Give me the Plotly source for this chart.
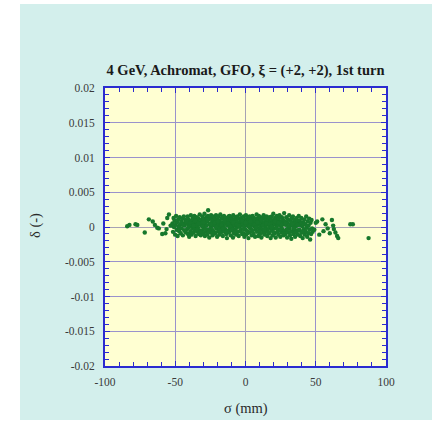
import plotly.graph_objects as go

# Longitudinal phase-space coordinates after the first turn: sigma (mm), delta (-)
sigma_core = [
    -52.0, -51.6, -51.2, -50.9, -50.5, -50.1, -49.8, -49.4, -49.0, -48.7, -48.3, -47.9, -47.6, -47.2, -46.8,
    -46.5, -46.1, -45.7, -45.4, -45.0, -44.6, -44.3, -43.9, -43.5, -43.2, -42.8, -42.4, -42.1, -51.8, -47.0,
    -41.8, -41.5, -41.2, -40.9, -40.6, -40.4, -40.1, -39.8, -39.5, -39.2, -38.9, -38.6, -38.4, -38.1, -37.8,
    -37.5, -37.2, -36.9, -36.6, -36.4, -36.1, -35.8, -35.5, -35.2, -34.9, -34.6, -34.4, -34.1, -33.8, -33.5,
    -33.2, -32.9, -32.6, -32.4, -32.1,
    -31.8, -31.5, -31.3, -31.0, -30.7, -30.5, -30.2, -29.9, -29.7, -29.4, -29.2, -28.9, -28.6, -28.4, -28.1,
    -27.8, -27.6, -27.3, -27.1, -26.8, -26.6, -26.3, -26.0, -25.8, -25.5, -25.2, -25.0, -24.7, -24.5, -24.2,
    -23.9, -23.7, -23.4, -23.1, -22.9, -22.6, -22.4, -22.1,
    -21.8, -21.6, -21.3, -21.0, -20.8, -20.5, -20.2, -20.0, -19.7, -19.5, -19.2, -18.9, -18.7, -18.4, -18.2,
    -17.9, -17.6, -17.4, -17.1, -16.8, -16.6, -16.3, -16.1, -15.8, -15.5, -15.3, -15.0, -14.8, -14.5, -14.2,
    -14.0, -13.7, -13.4, -13.2, -12.9, -12.7, -12.4, -12.1,
    -11.8, -11.6, -11.3, -11.0, -10.8, -10.5, -10.3, -10.0, -9.7, -9.5, -9.2, -8.9, -8.7, -8.4, -8.2,
    -7.9, -7.6, -7.4, -7.1, -6.9, -6.6, -6.3, -6.1, -5.8, -5.5, -5.3, -5.0, -4.8, -4.5, -4.2,
    -4.0, -3.7, -3.5, -3.2, -2.9, -2.7, -2.4, -2.1,
    -1.8, -1.6, -1.3, -1.0, -0.8, -0.5, -0.3, 0.0, 0.3, 0.5, 0.8, 1.1, 1.3, 1.6, 1.8,
    2.1, 2.4, 2.6, 2.9, 3.1, 3.4, 3.7, 3.9, 4.2, 4.5, 4.7, 5.0, 5.2, 5.5, 5.8,
    6.0, 6.3, 6.5, 6.8, 7.1, 7.3, 7.6, 7.9,
    8.2, 8.4, 8.7, 9.0, 9.2, 9.5, 9.7, 10.0, 10.3, 10.5, 10.8, 11.1, 11.3, 11.6, 11.8,
    12.1, 12.4, 12.6, 12.9, 13.1, 13.4, 13.7, 13.9, 14.2, 14.5, 14.7, 15.0, 15.2, 15.5, 15.8,
    16.0, 16.3, 16.5, 16.8, 17.1, 17.3, 17.6, 17.9,
    18.2, 18.5, 18.7, 19.0, 19.3, 19.6, 19.8, 20.1, 20.4, 20.7, 20.9, 21.2, 21.5, 21.8, 22.0,
    22.3, 22.6, 22.9, 23.1, 23.4, 23.7, 24.0, 24.2, 24.5, 24.8, 25.1, 25.3, 25.6, 25.9, 26.2,
    26.4, 26.7, 27.0, 27.3, 27.5, 27.8,
    28.1, 28.4, 28.7, 29.0, 29.3, 29.6, 29.9, 30.2, 30.5, 30.8, 31.1, 31.4, 31.7, 32.0, 32.3,
    32.6, 32.9, 33.2, 33.5, 33.8, 34.1, 34.4, 34.7, 35.0, 35.3, 35.6, 35.9, 36.2, 36.5, 36.8,
    37.1, 37.4, 37.7, 37.9,
    38.3, 38.6, 39.0, 39.3, 39.7, 40.0, 40.4, 40.7, 41.1, 41.4, 41.8, 42.1, 42.5, 42.8, 43.2,
    43.5, 43.9, 44.2, 44.6, 44.9, 45.3, 45.6, 46.0, 46.3, 46.7, 47.0, 47.4, 47.8,
]
delta_core = [
    0.0005, -0.0007, 0.0013, 0.0000, 0.0009, -0.0011, 0.0003, 0.0016, -0.0004, 0.0007, -0.0013, 0.0011, 0.0001, -0.0006, 0.0014,
    0.0004, -0.0009, 0.0008, -0.0002, 0.0012, -0.0012, 0.0005, 0.0015, -0.0005, 0.0002, 0.0010, -0.0008, 0.0006, 0.0002, -0.0001,
    0.0009, -0.0003, 0.0015, -0.0010, 0.0004, 0.0011, -0.0014, 0.0001, 0.0007, -0.0006, 0.0017, 0.0003, -0.0011, 0.0009, -0.0002,
    0.0013, 0.0005, -0.0008, 0.0000, 0.0016, -0.0004, 0.0010, -0.0013, 0.0006, 0.0002, 0.0014, -0.0007, 0.0008, -0.0001, 0.0012,
    -0.0010, 0.0004, 0.0018, -0.0005, 0.0007,
    -0.0012, 0.0010, 0.0003, -0.0005, 0.0015, 0.0007, -0.0009, 0.0001, 0.0012, -0.0002, 0.0019, -0.0013, 0.0005, 0.0009, -0.0007,
    0.0014, 0.0002, -0.0011, 0.0008, 0.0016, 0.0024, -0.0004, 0.0011, -0.0015, 0.0004, 0.0013, -0.0008, 0.0000, 0.0017, 0.0006,
    -0.0003, 0.0010, -0.0012, 0.0015, 0.0003, -0.0006, 0.0009, 0.0002,
    0.0013, -0.0009, 0.0005, 0.0017, -0.0002, 0.0008, -0.0014, 0.0011, 0.0002, -0.0006, 0.0015, 0.0004, -0.0011, 0.0009, -0.0001,
    0.0018, 0.0006, -0.0008, 0.0012, -0.0004, 0.0003, 0.0014, -0.0013, 0.0007, 0.0001, 0.0016, -0.0007, 0.0010, -0.0003, 0.0005,
    0.0013, -0.0010, 0.0008, -0.0016, 0.0002, 0.0011, -0.0005, 0.0015,
    -0.0008, 0.0006, 0.0016, -0.0002, 0.0010, -0.0012, 0.0003, 0.0013, -0.0005, 0.0008, 0.0000, -0.0015, 0.0017, 0.0005, -0.0009,
    0.0011, 0.0002, -0.0004, 0.0014, 0.0007, -0.0011, 0.0009, -0.0001, 0.0015, 0.0004, -0.0007, 0.0012, -0.0013, 0.0006, 0.0001,
    0.0018, -0.0006, 0.0010, -0.0003, 0.0013, 0.0003, -0.0010, 0.0008,
    0.0004, -0.0009, 0.0015, 0.0001, -0.0014, 0.0010, 0.0006, -0.0004, 0.0017, -0.0011, 0.0008, 0.0002, 0.0013, -0.0006, 0.0005,
    -0.0016, 0.0011, 0.0000, 0.0015, -0.0008, 0.0007, -0.0002, 0.0012, 0.0003, -0.0012, 0.0009, 0.0016, -0.0005, 0.0004, -0.0010,
    0.0013, 0.0001, 0.0008, -0.0014, 0.0011, -0.0003, 0.0006, 0.0018,
    -0.0007, 0.0012, 0.0003, -0.0013, 0.0008, 0.0016, -0.0002, 0.0005, -0.0010, 0.0014, 0.0001, 0.0009, -0.0015, 0.0006, -0.0004,
    0.0012, 0.0002, -0.0008, 0.0017, 0.0007, -0.0011, 0.0004, 0.0013, -0.0001, 0.0010, -0.0006, 0.0015, 0.0003, -0.0013, 0.0008,
    -0.0003, 0.0011, 0.0005, -0.0009, 0.0014, 0.0000, 0.0007, -0.0016,
    0.0010, -0.0005, 0.0015, 0.0002, -0.0012, 0.0007, 0.0019, -0.0002, 0.0011, -0.0009, 0.0004, 0.0013, -0.0015, 0.0006, 0.0000,
    0.0016, -0.0007, 0.0009, 0.0003, -0.0011, 0.0012, -0.0004, 0.0017, 0.0005, -0.0014, 0.0008, 0.0001, -0.0008, 0.0014, 0.0004,
    -0.0003, 0.0010, -0.0012, 0.0006, 0.0020, -0.0006,
    0.0008, -0.0010, 0.0003, 0.0014, -0.0004, -0.0015, 0.0006, 0.0011, -0.0008, 0.0000, 0.0017, -0.0002, -0.0012, 0.0009, 0.0004,
    -0.0017, 0.0012, -0.0006, 0.0002, 0.0015, -0.0010, 0.0007, -0.0003, 0.0010, -0.0014, 0.0005, 0.0001, -0.0008, 0.0013, -0.0005,
    0.0008, -0.0011, 0.0003, 0.0016,
    -0.0005, 0.0009, -0.0013, 0.0003, 0.0013, -0.0008, 0.0001, -0.0016, 0.0007, -0.0003, 0.0011, -0.0011, 0.0004, -0.0006, 0.0015,
    -0.0001, -0.0014, 0.0008, -0.0009, 0.0002, 0.0012, -0.0004, -0.0018, 0.0006, -0.0010, 0.0010, -0.0002, -0.0007,
]

# Additional particles filling the dense centre of the bunch
sigma_centre = [
    -44.5, -43.2, -41.9, -40.7, -39.4, -38.2, -37.0, -35.7, -34.5, -33.3,
    -32.0, -30.8, -29.6, -28.3, -27.1, -25.9, -24.6, -23.4, -22.2, -20.9,
    -19.7, -18.5, -17.2, -16.0, -14.8, -13.5, -12.3, -11.1, -9.8, -8.6,
    -7.4, -6.1, -4.9, -3.7, -2.4, -1.2, 0.0, 1.2, 2.5, 3.7,
    4.9, 6.2, 7.4, 8.6, 9.9, 11.1, 12.3, 13.6, 14.8, 16.0,
    17.3, 18.5, 19.7, 21.0, 22.2, 23.4, 24.7, 25.9, 27.1, 28.4,
    29.6, 30.8, 32.1, 33.3, 34.5, 35.8, 37.0, 38.2, 39.5, 40.7,
]
delta_centre = [
    0.0003, -0.0005, 0.0008, -0.0001, 0.0006, -0.0008, 0.0002, 0.0009, -0.0004, 0.0005,
    -0.0007, 0.0001, 0.0007, -0.0003, 0.0010, -0.0006, 0.0004, -0.0009, 0.0006, 0.0000,
    0.0008, -0.0005, 0.0003, -0.0002, 0.0009, -0.0007, 0.0005, 0.0001, -0.0004, 0.0007,
    -0.0008, 0.0004, 0.0002, -0.0006, 0.0009, -0.0003, 0.0006, -0.0009, 0.0001, 0.0008,
    -0.0005, 0.0003, -0.0001, 0.0007, -0.0006, 0.0010, 0.0002, -0.0004, 0.0005, -0.0008,
    0.0004, 0.0000, -0.0007, 0.0008, -0.0002, 0.0006, -0.0005, 0.0003, -0.0009, 0.0005,
    -0.0003, 0.0001, -0.0007, 0.0004, -0.0002, -0.0008, 0.0003, -0.0004, 0.0006, -0.0006,
]

# Particles trailing off either end of the bunch
sigma_tails = [
    -84.2, -82.6, -78.3, -77.0, -71.7, -68.8, -66.0, -64.5, -62.8, -61.7, -59.3, -58.5, -57.0, -56.2, -55.7,
    -54.5, -53.3,
    49.0, 50.0, 51.0, 52.5, 54.7, 55.5, 57.0, 58.5, 60.0, 61.5, 62.4, 62.9, 64.0, 65.2, 66.0, 74.6, 76.4, 87.6,
]
delta_tails = [
    0.0001, 0.0003, 0.0004, 0.0003, -0.0008, 0.0011, 0.0008, 0.0003, -0.0001, -0.0002, -0.0010, 0.0005, -0.0009, -0.0003, 0.0013,
    0.0018, 0.0002,
    -0.0004, 0.0006, 0.0008, -0.0011, 0.0011, -0.0006, 0.0004, -0.0002, -0.0009, 0.0010, 0.0002, -0.0003, -0.0008, -0.0013, -0.0016,
    0.0004, 0.0004, -0.0016,
]

x_ticks = [-100, -50, 0, 50, 100]
x_tick_text = ["-100", "-50", "0", "50", "100"]
y_ticks = [-0.02, -0.015, -0.01, -0.005, 0, 0.005, 0.01, 0.015, 0.02]
y_tick_text = ["-0.02", "-0.015", "-0.01", "-0.005", "0", "0.005", "0.01", "0.015", "0.02"]

CYAN = "#d3efec"
YELLOW = "#ffffd2"
BLUE = "#2b2bd0"
GRID = "#9a92cc"
ZERO = "#a6a2b4"
GREEN = "#17782c"
SERIF = "Liberation Serif, Times New Roman, serif"

fig = go.Figure()
fig.add_trace(go.Scatter(
    x=sigma_core + sigma_centre + sigma_tails,
    y=delta_core + delta_centre + delta_tails,
    mode="markers",
    marker=dict(size=4.4, color=GREEN, line=dict(width=0)),
    showlegend=False,
    hoverinfo="skip",
))

axis_common = dict(
    showline=True, linecolor=BLUE, linewidth=2, mirror="allticks",
    ticks="inside", ticklen=5, tickcolor=BLUE, tickwidth=1.2,
    showgrid=True, gridcolor=GRID, gridwidth=1,
    zeroline=True, zerolinecolor=ZERO, zerolinewidth=1.2,
    tickfont=dict(family=SERIF, size=11.5, color="#3a3a3a"),
    fixedrange=True,
)

fig.update_xaxes(
    range=[-100, 100], tickmode="array", tickvals=x_ticks, ticktext=x_tick_text,
    minor=dict(dtick=10, ticks="inside", ticklen=4, tickcolor=BLUE, tickwidth=1.2, showgrid=False),
    ticklabelstandoff=4,
    **axis_common,
)
fig.update_yaxes(
    range=[-0.02, 0.02], tickmode="array", tickvals=y_ticks, ticktext=y_tick_text,
    minor=dict(dtick=0.001, ticks="inside", ticklen=4, tickcolor=BLUE, tickwidth=1.2, showgrid=False),
    ticklabelstandoff=6,
    **axis_common,
)

# Plot-area geometry in pixels (used to place the panel backdrop)
W, H = 432, 422
L, R, T, B = 105, 46, 88, 56
pw, ph = W - L - R, H - T - B

def px_x(px):
    return (px - L) / pw

def px_y(py):
    return (H - B - py) / ph

fig.update_layout(
    width=W, height=H,
    margin=dict(l=L, r=R, t=T, b=B),
    paper_bgcolor="white",
    plot_bgcolor=YELLOW,
    title=dict(
        text="<b>4 GeV, Achromat, GFO, ξ = (+2, +2), 1st turn</b>",
        font=dict(family=SERIF, size=14.5, color="#1a1a1a"),
        x=0.5, xref="paper", xanchor="center",
        y=1 - 70 / H, yref="container", yanchor="middle",
    ),
    shapes=[
        dict(type="rect", xref="paper", yref="paper",
             x0=px_x(20), x1=px_x(W + 2), y0=px_y(420), y1=px_y(4),
             fillcolor=CYAN, line=dict(width=0), layer="below"),
        dict(type="rect", xref="x", yref="y", x0=-100, x1=100, y0=-0.02, y1=0.02,
             fillcolor=YELLOW, line=dict(width=0), layer="below"),
    ],
    annotations=[
        dict(text="σ (mm)", xref="paper", yref="paper", x=0.5, y=px_y(408),
             showarrow=False, xanchor="center", yanchor="middle",
             font=dict(family=SERIF, size=14.5, color="#2a2a2a")),
        dict(text="δ (-)", xref="paper", yref="paper", x=px_x(35), y=px_y(226),
             showarrow=False, xanchor="center", yanchor="middle", textangle=-90,
             font=dict(family=SERIF, size=14.5, color="#2a2a2a")),
    ],
)

fig.write_html("out.html")
